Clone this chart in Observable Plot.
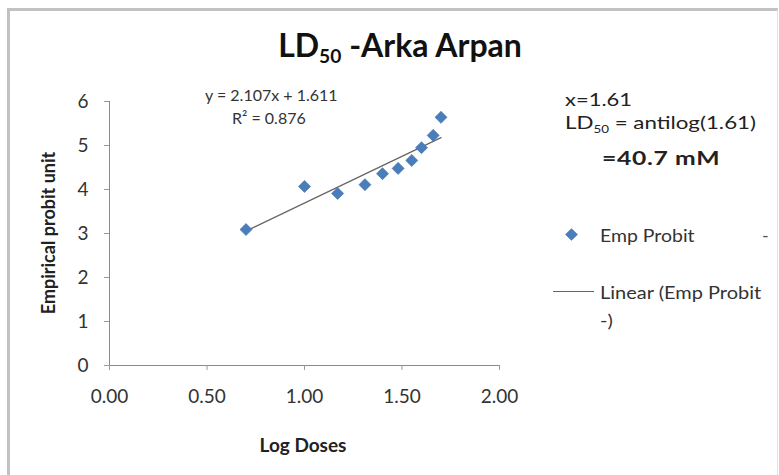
<!DOCTYPE html>
<html><head><meta charset="utf-8">
<script src="https://cdn.jsdelivr.net/npm/d3@7"></script>
<script src="https://cdn.jsdelivr.net/npm/@observablehq/plot@0.6"></script>
<style>
body{margin:0;background:#fff;}
#wrap{position:relative;width:779px;height:475px;font-family:Lato,"Open Sans",sans-serif;color:#222;overflow:hidden;background:#fff;}
.frame{position:absolute;left:7px;top:8px;width:767px;height:480px;border-left:3px solid #c2c2c2;border-top:3px solid #c2c2c2;border-right:1px solid #e2e2e2;}
.t{position:absolute;white-space:nowrap;line-height:1;transform:translateY(-50%);}
.s{transform-origin:left center;}
.c{transform:translate(-50%,-50%);}
#chart{position:absolute;left:0;top:0;}
sub{font-size:60%;vertical-align:-0.35em;}
</style>
</head><body>
<div id="wrap">
  <div class="frame"></div>
  <div id="chart"></div>
  <div class="t c" style="left:400px;top:47px;font-size:32px;font-weight:bold;color:#111;">LD<sub>50</sub> -Arka Arpan</div>
  <div class="t" id="eq" style="left:205px;top:95px;font-size:16px;color:#333;"></div>
  <div class="t" id="r2" style="left:232px;top:118px;font-size:16px;color:#333;"></div>
  <div class="t s" style="left:565px;top:99px;font-size:18px;color:#222;transform:translateY(-50%) scaleX(1.22);">x=1.61</div>
  <div class="t s" style="left:565px;top:124px;font-size:18px;color:#222;transform:translateY(-50%) scaleX(1.24);">LD<sub>50</sub> = antilog(1.61)</div>
  <div class="t s" style="left:602px;top:157px;font-size:19px;font-weight:bold;letter-spacing:0.5px;color:#222;transform:translateY(-50%) scaleX(1.3);">=40.7 mM</div>
  <div style="position:absolute;left:567px;top:230px;width:9px;height:9px;background:#4a7ebb;transform:rotate(45deg);"></div>
  <div class="t s" style="left:600px;top:235px;font-size:18px;color:#333;transform:translateY(-50%) scaleX(1.08);">Emp Probit</div>
  <div class="t" style="left:762px;top:235px;font-size:18px;color:#555;">-</div>
  <div style="position:absolute;left:553px;top:291px;width:41px;border-top:1.5px solid #666;"></div>
  <div class="t s" style="left:600px;top:292px;font-size:18px;color:#333;transform:translateY(-50%) scaleX(1.11);">Linear (Emp Probit</div>
  <div class="t s" style="left:600px;top:320px;font-size:18px;color:#333;transform:translateY(-50%) scaleX(1.11);">-)</div>
  <div class="t c" style="left:303px;top:444px;font-size:19px;font-weight:bold;color:#222;">Log Doses</div>
  <div class="t c" style="left:48px;top:233px;font-size:18px;font-weight:bold;color:#222;transform:translate(-50%,-50%) rotate(-90deg);">Empirical probit unit</div>
</div>
<script>
// Data
const logDoses = [0.70, 1.00, 1.17, 1.31, 1.40, 1.48, 1.55, 1.60, 1.66, 1.70];
const empProbit = [3.09, 4.07, 3.91, 4.11, 4.36, 4.48, 4.66, 4.95, 5.23, 5.64];
const xTicks = [0, 0.5, 1.0, 1.5, 2.0];
const yTicks = [0, 1, 2, 3, 4, 5, 6];
const equationText = "y = 2.107x + 1.611";
const r2Text = "R² = 0.876";

document.getElementById("eq").textContent = equationText;
document.getElementById("r2").textContent = r2Text;

const data = logDoses.map((x, i) => ({x, y: empProbit[i]}));

const chart = Plot.plot({
  width: 779,
  height: 475,
  marginLeft: 109,
  marginRight: 280,
  marginTop: 101,
  marginBottom: 110,
  x: {domain: [0, 2]},
  y: {domain: [0, 6]},
  style: {fontFamily: "Lato, 'Open Sans', sans-serif", fontSize: "16px", color: "#333", background: "transparent", overflow: "visible"},
  marks: [
    Plot.ruleY([0], {stroke: "#8a8a8a"}),
    Plot.ruleX([0], {stroke: "#8a8a8a"}),
    Plot.axisX({ticks: xTicks, tickFormat: d => d.toFixed(2), tickSize: 5, tickPadding: 19, label: null, stroke: "#9a9a9a", fill: "#333", fontSize: 19}),
    Plot.axisY({ticks: yTicks, tickFormat: d => String(d), tickSize: 5, tickPadding: 16, label: null, stroke: "#9a9a9a", fill: "#333", fontSize: 19}),
    Plot.linearRegressionY(data, {x: "x", y: "y", stroke: "#666", strokeWidth: 1.3, ci: 0}),
    Plot.dot(data, {x: "x", y: "y", symbol: "square", r: 4.8, rotate: 45, fill: "#4a7ebb", stroke: "#3f70aa", strokeWidth: 0.6})
  ]
});
document.getElementById("chart").appendChild(chart);
</script>
</body></html>
